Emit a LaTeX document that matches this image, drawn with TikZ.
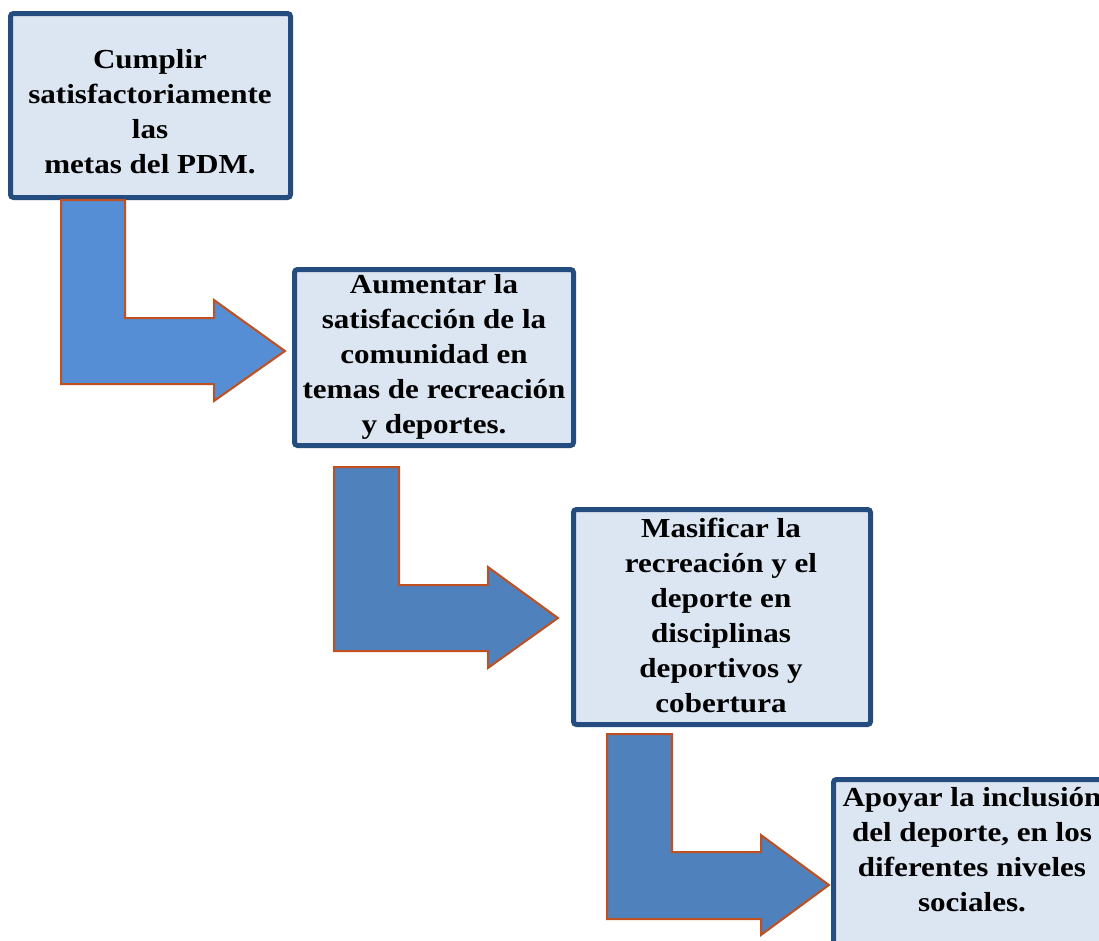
\documentclass[tikz,border=0pt]{standalone}
\usepackage{fontspec}
\setmainfont{Liberation Serif}[FakeStretch=1.13]
\definecolor{boxfill}{HTML}{DCE6F2}
\definecolor{boxline}{HTML}{254C7E}
\definecolor{arrowA}{HTML}{558ED5}
\definecolor{arrowB}{HTML}{4F81BD}
\definecolor{arrowline}{HTML}{C0501F}
\tikzset{
  goalbox/.style={draw=boxline, fill=boxfill, line width=5pt, rounded corners=3pt, inner sep=0pt},
  goaltext/.style={align=center, font=\fontsize{27.5}{35}\selectfont\bfseries, inner sep=0pt},
  bentarrow/.style={draw=arrowline, line width=2pt, line join=miter}
}
\begin{document}
\begin{tikzpicture}[x=1pt,y=-1pt]
\useasboundingbox (0,0) rectangle (1099,940);
\clip (0,0) rectangle (1099,940);
\fill[white] (0,0) rectangle (1099,940);
% boxes
\node[goalbox, minimum width=280pt, minimum height=184pt] (b1) at (150.5,105.5) {};
\node[goaltext] (t1) at (150,112) {Cumplir\\satisfactoriamente\\las\\metas del PDM.};
\node[goalbox, minimum width=279pt, minimum height=176pt] (b2) at (434,357.5) {};
\node[goaltext] (t2) at (434,357) {Aumentar la\\satisfacción de la\\comunidad en\\temas de recreación\\y deportes.};
\node[goalbox, minimum width=297pt, minimum height=215pt] (b3) at (722,617) {};
\node[goaltext] (t3) at (721,615) {Masificar la\\recreación y el\\deporte en\\disciplinas\\deportivos y\\cobertura};
\node[goalbox, minimum width=280pt, minimum height=200pt] (b4) at (973.5,879.5) {};
\node[goaltext] (t4) at (972,850) {Apoyar la inclusión\\del deporte, en los\\diferentes niveles\\sociales.};
% bent arrows
\draw[bentarrow, fill=arrowA] (61,200) -- (125,200) -- (125,318) -- (214,318) -- (214,300) -- (285,351) -- (214,401) -- (214,384) -- (61,384) -- cycle;
\draw[bentarrow, fill=arrowB] (334,467) -- (399,467) -- (399,585) -- (488,585) -- (488,567) -- (558,618) -- (488,668) -- (488,651) -- (334,651) -- cycle;
\draw[bentarrow, fill=arrowB] (607,734) -- (672,734) -- (672,852) -- (761,852) -- (761,835) -- (829,885) -- (761,935) -- (761,919) -- (607,919) -- cycle;
\end{tikzpicture}
\end{document}
